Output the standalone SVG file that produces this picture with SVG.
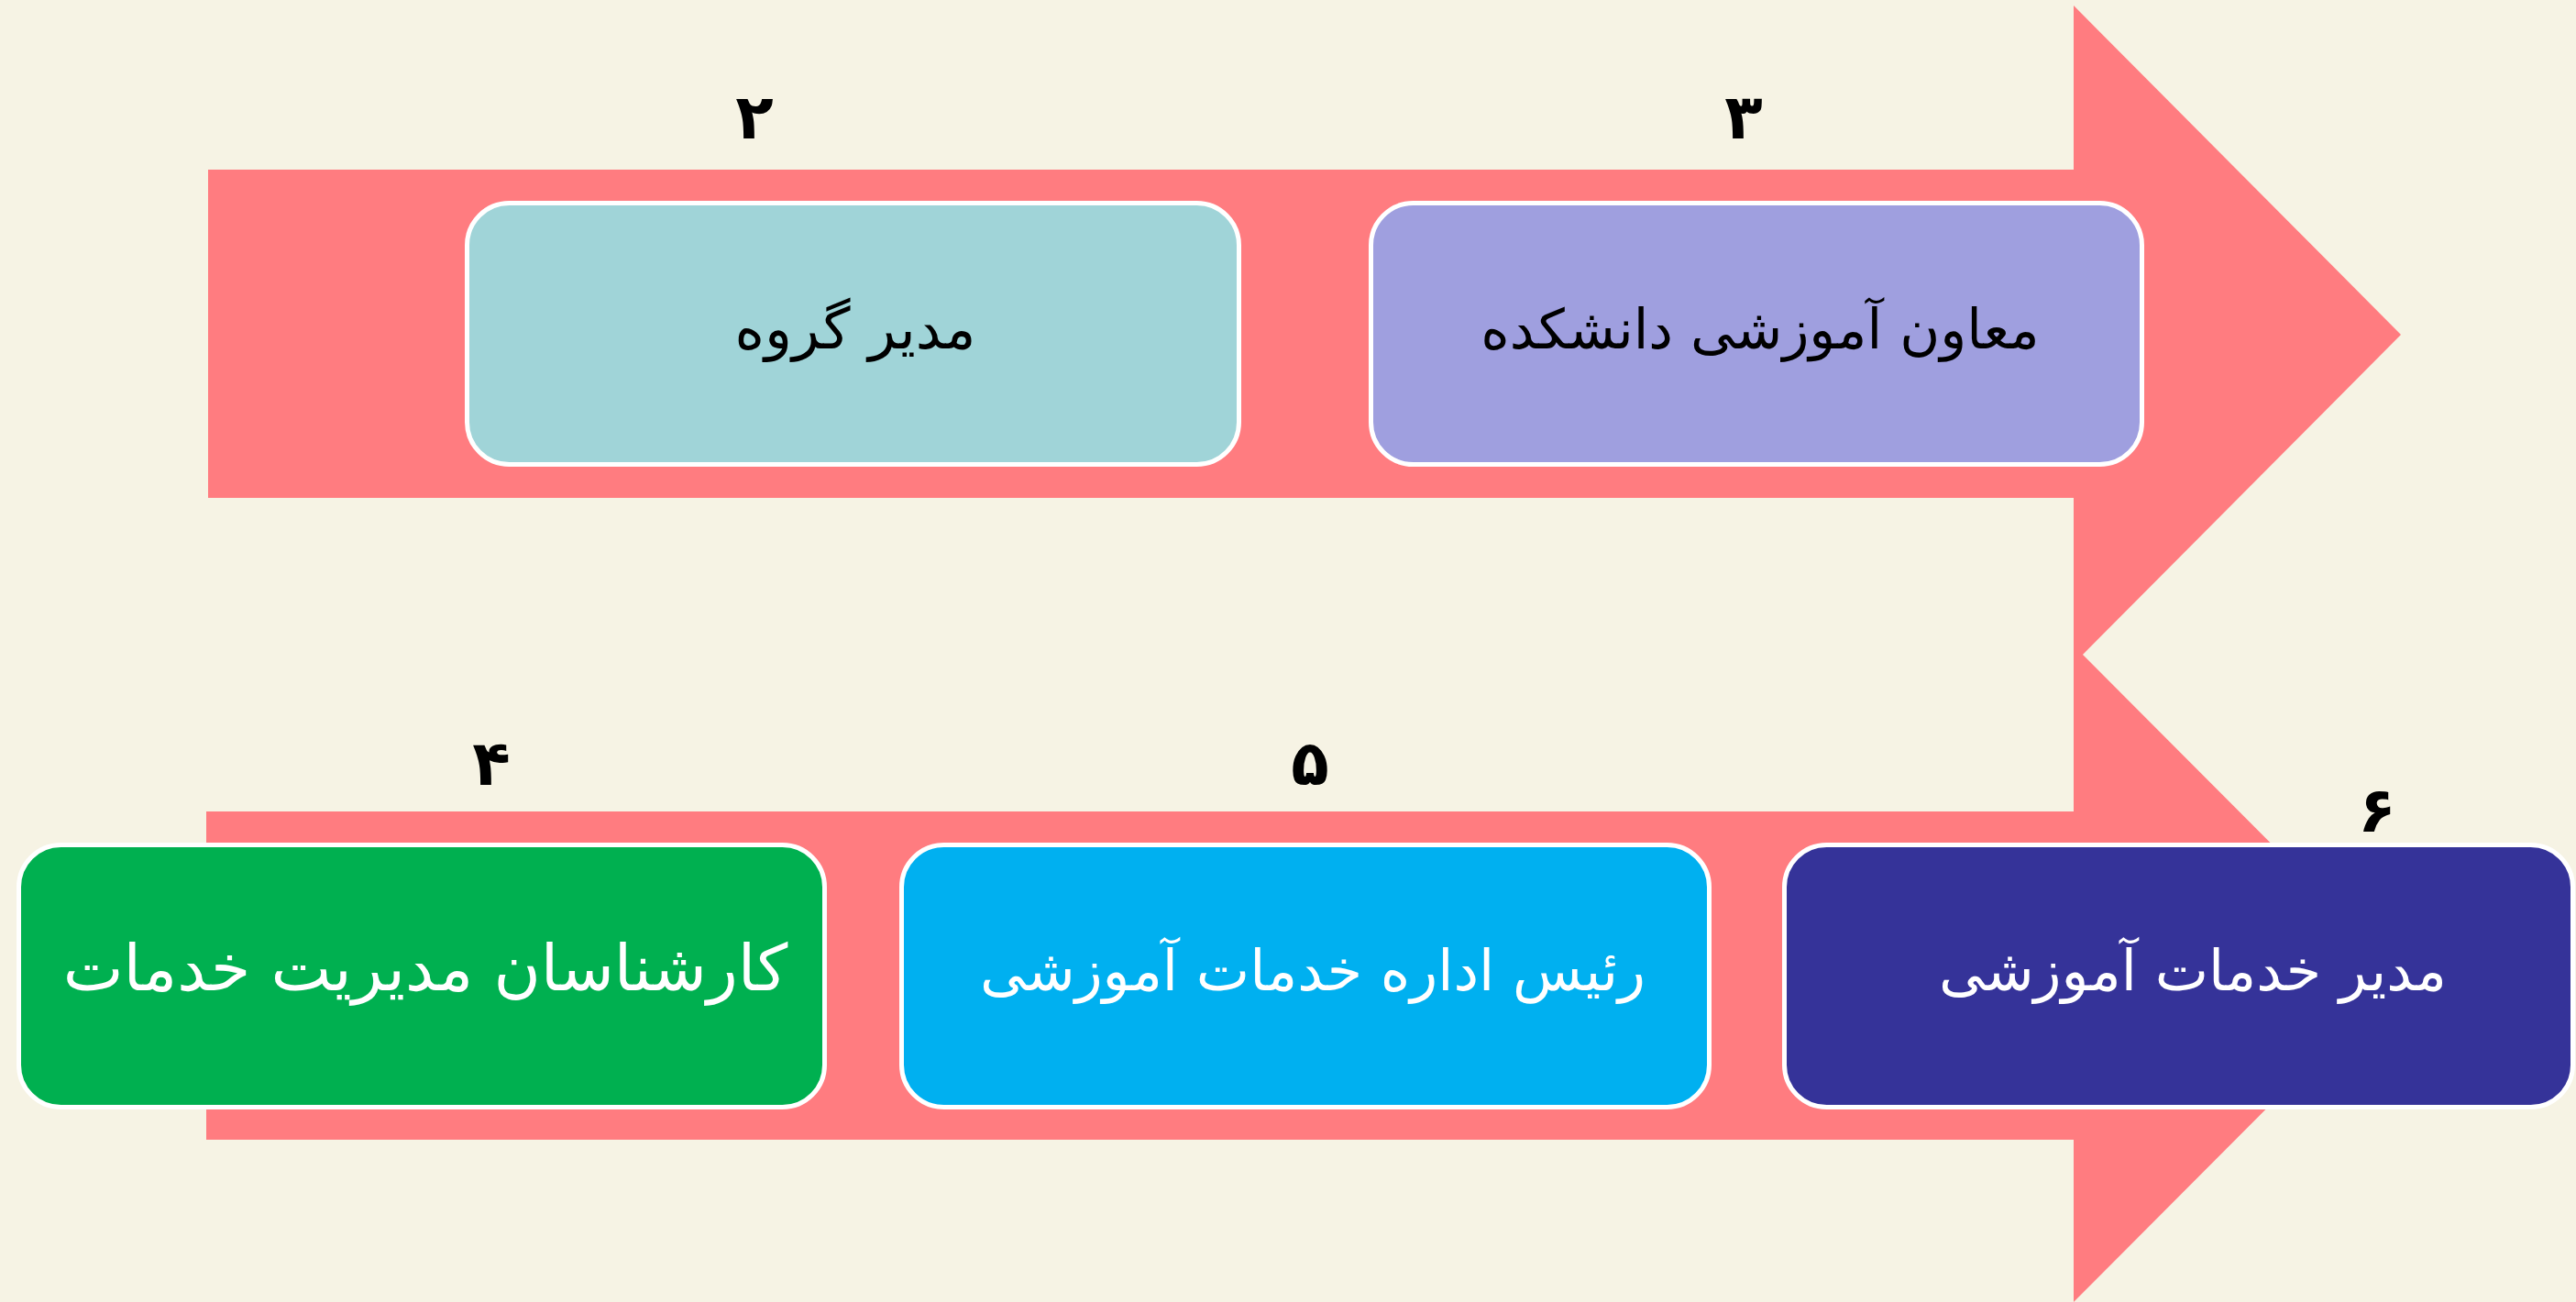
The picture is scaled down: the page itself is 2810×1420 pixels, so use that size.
<svg xmlns="http://www.w3.org/2000/svg" width="2810" height="1420" viewBox="0 0 2810 1420">
<style>
.box{stroke:#FFFFFF;stroke-width:5}
.lbl{font-family:"DejaVu Sans",sans-serif;font-size:62px;text-anchor:middle;direction:rtl}
.big{font-size:70px}
.mid{font-size:60px}
.num{font-family:"DejaVu Sans",sans-serif;font-size:68px;font-weight:bold;text-anchor:middle;fill:#000000}
.arrow{fill:#FF7C80}
</style>
<rect x="0" y="0" width="2810" height="1420" fill="#F6F3E4"/>
<g id="connectors">
<polygon class="arrow" points="227,185 2262,185 2262,6 2619,365 2262,724 2262,543 227,543"/>
<polygon class="arrow" points="225,885 2262,885 2262,704 2619,1062 2262,1420 2262,1243 225,1243"/>
</g>
<g id="node-2">
<rect class="box" x="509.5" y="221.5" width="842" height="285" rx="46" fill="#A0D4D8"/>
<text class="lbl" x="933" y="380" fill="#000000">مدیر گروه</text>
<text class="num" x="823" y="151">۲</text>
</g>
<g id="node-3">
<rect class="box" x="1495.5" y="221.5" width="841" height="285" rx="46" fill="#9F9FDF"/>
<text class="lbl mid" x="1920" y="380" fill="#000000">معاون آموزشی دانشکده</text>
<text class="num" x="1902" y="151">۳</text>
</g>
<g id="node-4">
<rect class="box" x="20.5" y="921.5" width="879" height="286" rx="46" fill="#00B050"/>
<text class="lbl big" x="464" y="1080" fill="#FFFFFF">کارشناسان مدیریت خدمات</text>
<text class="num" x="536" y="856">۴</text>
</g>
<g id="node-5">
<rect class="box" x="983.5" y="921.5" width="881" height="286" rx="46" fill="#00B0F0"/>
<text class="lbl" x="1432" y="1080" fill="#FFFFFF">رئیس اداره خدمات آموزشی</text>
<text class="num" x="1429" y="856">۵</text>
</g>
<g id="node-6">
<rect class="box" x="1946.5" y="921.5" width="860" height="286" rx="46" fill="#353399"/>
<text class="lbl" x="2392" y="1080" fill="#FFFFFF">مدیر خدمات آموزشی</text>
<text class="num" x="2593" y="907">۶</text>
</g>
</svg>
